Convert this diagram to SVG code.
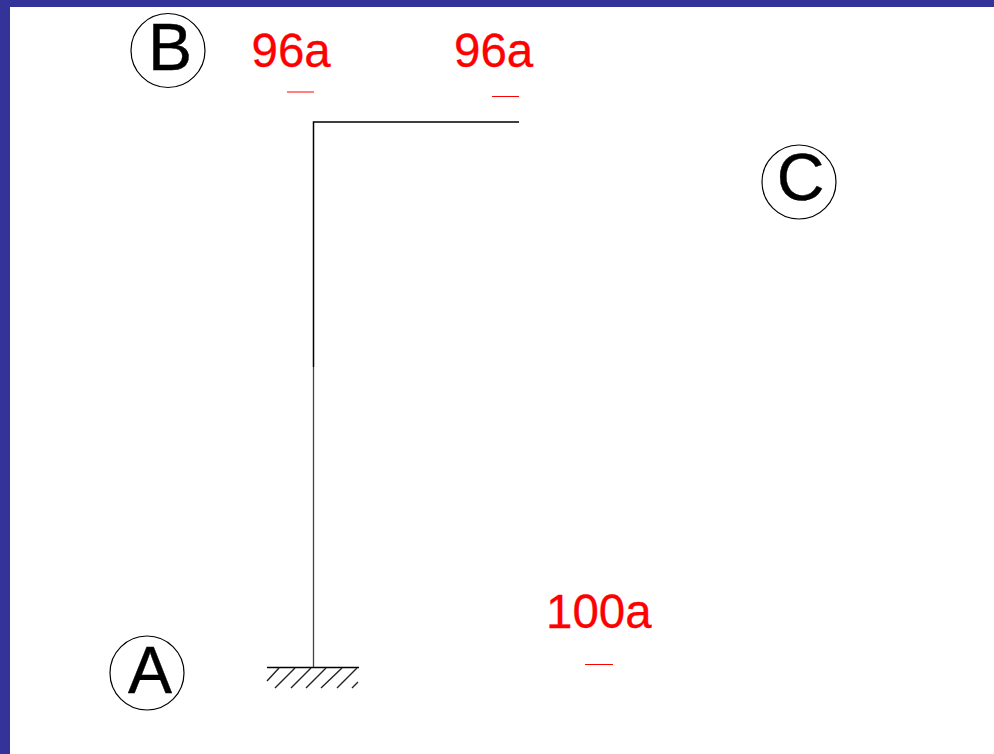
<svg xmlns="http://www.w3.org/2000/svg" width="994" height="754" viewBox="0 0 994 754">
<style>
.t{font-family:"Liberation Sans",Arial,sans-serif}
.lbl{font-size:66px;fill:#000;text-anchor:middle;stroke:#000;stroke-width:.4px}
.red{font-size:47.500px;fill:#f00;stroke:#f00;stroke-width:.3px}
.bar{stroke:#f00;stroke-width:1;fill:none}
.ring{fill:#fff;stroke:#000;stroke-width:1.200}
.ln{stroke:#000;fill:none}
.h{stroke:#222;stroke-width:1.400;fill:none}
</style>
<rect width="994" height="754" fill="#fff"/>
<path d="M0 0H994V7H10V754H0Z" fill="#333399"/>
<g id="connectors">
<path class="ln" stroke-width="1.500" d="M519 122H313.500V367"/>
<path class="ln" stroke-width="1.300" d="M313.500 367V667" style="stroke:#444"/>
</g>
<g id="support">
<path class="ln" stroke-width="1.500" d="M267 667.500H359"/>
<path class="h" d="M279 668L267 681M295 668L275 688M311 668L291 688M326 668L306 688M342 668L321 688M357 668L337 688M358 682L352 688"/>
</g>
<g id="node-B"><circle class="ring" cx="168" cy="50.500" r="37"/><text class="t lbl" x="170" y="70">B</text></g>
<g id="node-C"><circle class="ring" cx="799" cy="182" r="37"/><text class="t lbl" x="800.500" y="200">C</text></g>
<g id="node-A"><circle class="ring" cx="147" cy="673" r="37"/><text class="t lbl" x="150" y="692.500">A</text></g>
<g id="label-96a-left"><text class="t red" x="251.500" y="67">96a</text><path class="bar" d="M287 92H314"/></g>
<g id="label-96a-right"><text class="t red" x="454" y="67">96a</text><path class="bar" d="M492 96.500H519"/></g>
<g id="label-100a"><text class="t red" x="546" y="628">100a</text><path class="bar" d="M585 664.500H613"/></g>
</svg>
